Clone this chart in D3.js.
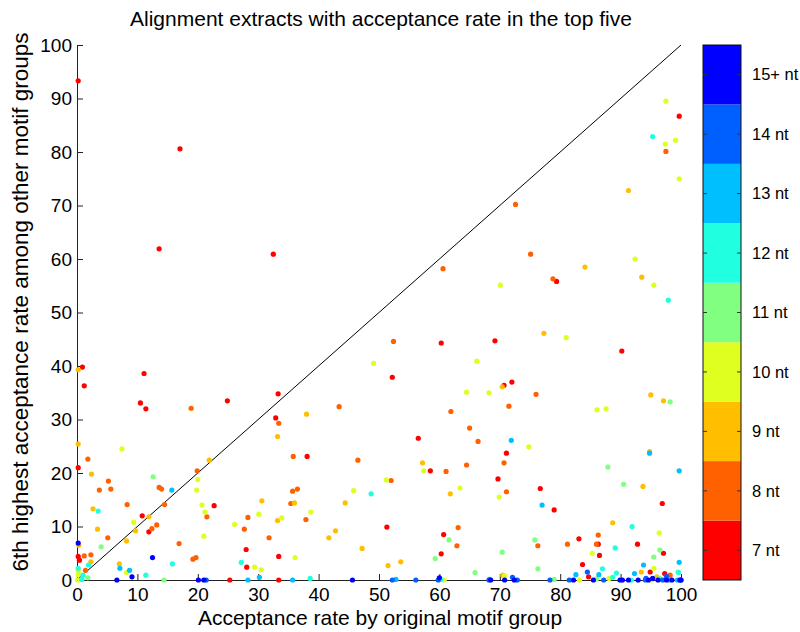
<!DOCTYPE html>
<html>
<head>
<meta charset="utf-8">
<script src="https://cdn.jsdelivr.net/npm/d3@7"></script>
<style>
  body { margin: 0; background: #fff; }
  text { font-family: "Liberation Sans", Arial, Helvetica, sans-serif; fill: #000; }
</style>
</head>
<body>
<div id="chart"></div>
<script>
// points per motif length, [acceptance by original group, 6th highest among others]
const pts7 = [[0.2,93.3],[17.05,80.6],[13.6,61.9],[32.5,60.9],[0.9,39.8],[1.2,36.3],[11.1,38.6],[10.5,33.1],[11.4,32.0],[24.9,33.5],[33.3,34.8],[32.9,30.3],[52.2,37.9],[60.3,44.3],[79.4,55.8],[69.2,44.7],[90.2,42.8],[72.0,37.0],[70.7,36.4],[99.7,86.7],[0.2,21.0],[10.8,12.0],[11.9,9.0],[0.2,4.4],[0.4,3.7],[22.7,13.9],[25.3,0],[28.0,5.7],[28.1,2.4],[33.4,0],[33.4,4.4],[38.1,23.1],[56.5,26.5],[58.5,20.4],[51.3,9.9],[60.7,8.5],[60.3,4.9],[71.1,23.7],[69.7,18.9],[76.7,17.1],[79.0,13.1],[83.1,7.7],[83.7,2.9],[84.7,0.6],[86.3,6.7],[86.5,4.6],[92.8,6.7],[96.9,14.3],[97.1,5.0],[94.9,1.5],[97.3,1.2]];
const pts8 = [[18.9,32.1],[60.6,58.2],[52.4,44.6],[43.4,32.4],[61.9,31.5],[72.6,70.2],[97.5,80.1],[75.1,60.9],[78.8,56.3],[76.0,34.7],[71.5,32.5],[1.8,22.6],[5.2,18.5],[5.6,17.0],[3.7,16.8],[8.3,14.1],[13.6,17.3],[14.0,17.0],[14.5,14.1],[12.4,9.6],[13.2,10.3],[5.1,7.9],[1.2,4.5],[2.3,4.7],[1.4,1.8],[16.9,6.8],[19.2,3.9],[19.7,4.2],[19.9,20.4],[21.5,11.8],[27.7,9.5],[28.3,11.7],[31.8,7.9],[33.4,29.3],[35.8,23.1],[46.5,22.4],[61.1,20.3],[65.0,28.4],[66.4,25.9],[64.5,21.5],[52.0,18.6],[35.7,16.6],[36.5,17.0],[35.4,14.3],[37.9,11.3],[63.1,9.8],[62.9,6.4],[70.7,21.9],[71.1,16.5],[76.3,6.4],[81.2,6.7],[86.3,8.4],[86.0,6.7],[98.2,0.9]];
const pts9 = [[0.2,39.3],[38.0,31.0],[91.3,72.8],[84.1,58.5],[93.5,56.6],[77.3,46.1],[70.4,36.1],[95.0,34.6],[97.1,33.5],[0.2,25.4],[2.4,19.8],[2.65,13.3],[11.9,11.8],[9.7,9.2],[3.4,9.5],[8.2,7.3],[0.3,6.5],[2.3,3.4],[7.0,3.0],[21.9,22.4],[30.6,14.8],[33.2,11.1],[33.2,26.8],[57.2,21.9],[61.8,16.1],[36.0,14.4],[44.4,14.4],[42.8,9.2],[41.7,7.9],[47.2,5.9],[51.5,2.7],[53.6,3.4],[70.5,0.9],[88.7,10.7],[93.7,17.5],[94.8,24.0],[93.4,1.5],[96.0,0.6]];
const pts10 = [[97.5,89.5],[99.1,82.2],[97.4,81.5],[99.7,75.0],[49.1,40.5],[66.2,40.9],[64.5,35.1],[68.2,35.0],[92.4,60.0],[70.1,55.1],[95.5,55.1],[81.0,45.3],[86.1,31.8],[87.6,32.0],[7.45,24.5],[9.4,10.8],[0.2,1.6],[0.2,1.0],[0.1,0],[8.2,1.4],[20.0,18.8],[19.8,16.8],[20.7,14.0],[21.2,12.7],[21.0,8.2],[26.1,10.4],[30.1,12.3],[29.4,2.4],[30.5,1.9],[33.9,11.6],[38.7,12.7],[57.4,20.4],[63.4,17.2],[51.2,18.7],[45.8,16.7],[36.1,4.2],[60.8,0],[74.8,24.9],[69.9,15.5],[70.8,0.8],[83.2,0],[85.3,5.0],[88.1,0.3],[96.4,8.8],[95.5,2.2],[95.1,0]];
const pts11 = [[98.2,33.3],[12.6,19.3],[4.0,6.2],[1.8,0.4],[14.4,0],[61.6,7.5],[59.3,4.0],[65.9,1.4],[75.8,7.5],[70.4,5.2],[76.3,2.1],[79.0,0.1],[86.0,0.2],[87.9,21.1],[90.5,17.9],[96.5,5.6],[95.5,4.3],[99.5,1.5],[96.5,0.3]];
const pts12 = [[95.3,82.9],[97.9,52.3],[3.5,12.9],[1.9,2.8],[0.2,2.2],[1.0,0.9],[0.8,0.1],[11.4,0.9],[15.8,3.0],[27.2,3.3],[48.7,16.1],[38.6,0.3],[60.2,0.1],[89.1,6.0],[87.0,2.1],[88.7,0.5],[89.3,1.3],[91.9,10.0],[91.8,0],[99.6,1.4],[96.5,0.1]];
const pts13 = [[15.7,16.8],[7.1,2.2],[8.7,1.8],[30.2,0.5],[28.3,0],[35.7,0],[52.8,0.1],[71.9,26.1],[77.0,14.0],[68.3,0.1],[82.6,1.0],[86.4,1.0],[94.8,23.7],[99.7,20.4],[93.8,2.8],[92.3,1.2],[99.7,3.3],[98.1,0],[99.4,0]];
const pts14 = [[21.4,0],[52.2,0],[56.1,0],[59.8,0],[68.2,0],[72.1,0.5],[72.9,0],[78.3,0],[81.5,0],[84.5,1.5],[87.2,0],[94.2,0.3],[94.1,0],[97.0,0],[97.6,0.7],[100,0]];
const pts15 = [[0.2,6.9],[9.1,0.6],[6.6,0],[12.5,4.2],[20.1,0],[21.0,0],[45.6,0],[60.0,0.4],[68.5,0],[70.8,0],[72.4,0],[82.2,0],[85.5,0],[89.9,0],[90.3,0],[91.3,0],[92.9,0],[94.6,0],[95.3,0.3],[96.2,0],[97.6,0],[98.5,0],[99.8,0],[100,0]];

const groups = [pts7, pts8, pts9, pts10, pts11, pts12, pts13, pts14, pts15];
const groupLabels = ["7 nt", "8 nt", "9 nt", "10 nt", "11 nt", "12 nt", "13 nt", "14 nt", "15+ nt"];
const groupColors = ["#ff0000", "#ff6000", "#ffbf00", "#dfff20", "#80ff80", "#20ffdf", "#00bfff", "#0060ff", "#0000ff"];
const tickVals = [0, 10, 20, 30, 40, 50, 60, 70, 80, 90, 100];

const width = 800, height = 632;
const margin = { top: 45, right: 119, bottom: 52, left: 77 };

let svg = d3.select("#chart")
    .append("svg")
    .attr("width", width)
    .attr("height", height);

let x = d3.scaleLinear().domain([0, 100]).range([margin.left, width - margin.right]);
let y = d3.scaleLinear().domain([0, 100]).range([height - margin.bottom, margin.top]);

// axes, ticks pointing inward like matlab
svg.append("g")
    .attr("transform", "translate(0," + y(0) + ")")
    .call(d3.axisBottom(x).tickValues(tickVals).tickSize(-6).tickSizeOuter(0).tickPadding(8))
    .call(g => g.selectAll("text").style("font-size", "19px"))
    .call(g => g.selectAll("line,path").attr("stroke", "#222"));

svg.append("g")
    .attr("transform", "translate(" + x(0) + ",0)")
    .call(d3.axisLeft(y).tickValues(tickVals).tickSize(-6).tickSizeOuter(0).tickPadding(5))
    .call(g => g.selectAll("text").style("font-size", "19px"))
    .call(g => g.selectAll("line,path").attr("stroke", "#222"));

// y = x reference line
svg.append("line")
    .attr("x1", x(0)).attr("y1", y(0))
    .attr("x2", x(100)).attr("y2", y(100))
    .attr("stroke", "#000")
    .attr("stroke-width", 1);

// dots
groups.forEach(function (pts, i) {
    svg.append("g")
        .selectAll("circle")
        .data(pts)
        .enter()
        .append("circle")
        .attr("cx", d => x(d[0]))
        .attr("cy", d => y(d[1]))
        .attr("r", 2.6)
        .attr("fill", groupColors[i]);
});

// titles
svg.append("text")
    .attr("x", 381).attr("y", 26)
    .attr("text-anchor", "middle")
    .style("font-size", "21px")
    .text("Alignment extracts with acceptance rate in the top five");

svg.append("text")
    .attr("x", 380).attr("y", 625)
    .attr("text-anchor", "middle")
    .style("font-size", "21px")
    .text("Acceptance rate by original motif group");

svg.append("text")
    .attr("transform", "translate(28,302) rotate(-90)")
    .attr("text-anchor", "middle")
    .style("font-size", "22.5px")
    .text("6th highest acceptance rate among other motif groups");

// colorbar
const cbX = 703, cbW = 38;
let cb = d3.scaleBand()
    .domain(groupLabels.slice().reverse())
    .range([margin.top, height - margin.bottom]);

let cbg = svg.append("g");
cbg.selectAll("rect")
    .data(groupLabels)
    .enter()
    .append("rect")
    .attr("x", cbX)
    .attr("y", d => cb(d))
    .attr("width", cbW)
    .attr("height", cb.bandwidth())
    .attr("fill", (d, i) => groupColors[i]);

cbg.append("rect")
    .attr("x", cbX).attr("y", margin.top)
    .attr("width", cbW).attr("height", height - margin.bottom - margin.top)
    .attr("fill", "none")
    .attr("stroke", "#111");

groupLabels.forEach(function (lab) {
    let cy = cb(lab) + cb.bandwidth() / 2;
    cbg.append("line").attr("x1", cbX).attr("x2", cbX + 4).attr("y1", cy).attr("y2", cy).attr("stroke", "#333");
    cbg.append("line").attr("x1", cbX + cbW - 4).attr("x2", cbX + cbW).attr("y1", cy).attr("y2", cy).attr("stroke", "#333");
    cbg.append("text")
        .attr("x", cbX + cbW + 11)
        .attr("y", cy)
        .attr("dy", "0.35em")
        .style("font-size", "16.5px")
        .text(lab);
});
</script>
</body>
</html>
